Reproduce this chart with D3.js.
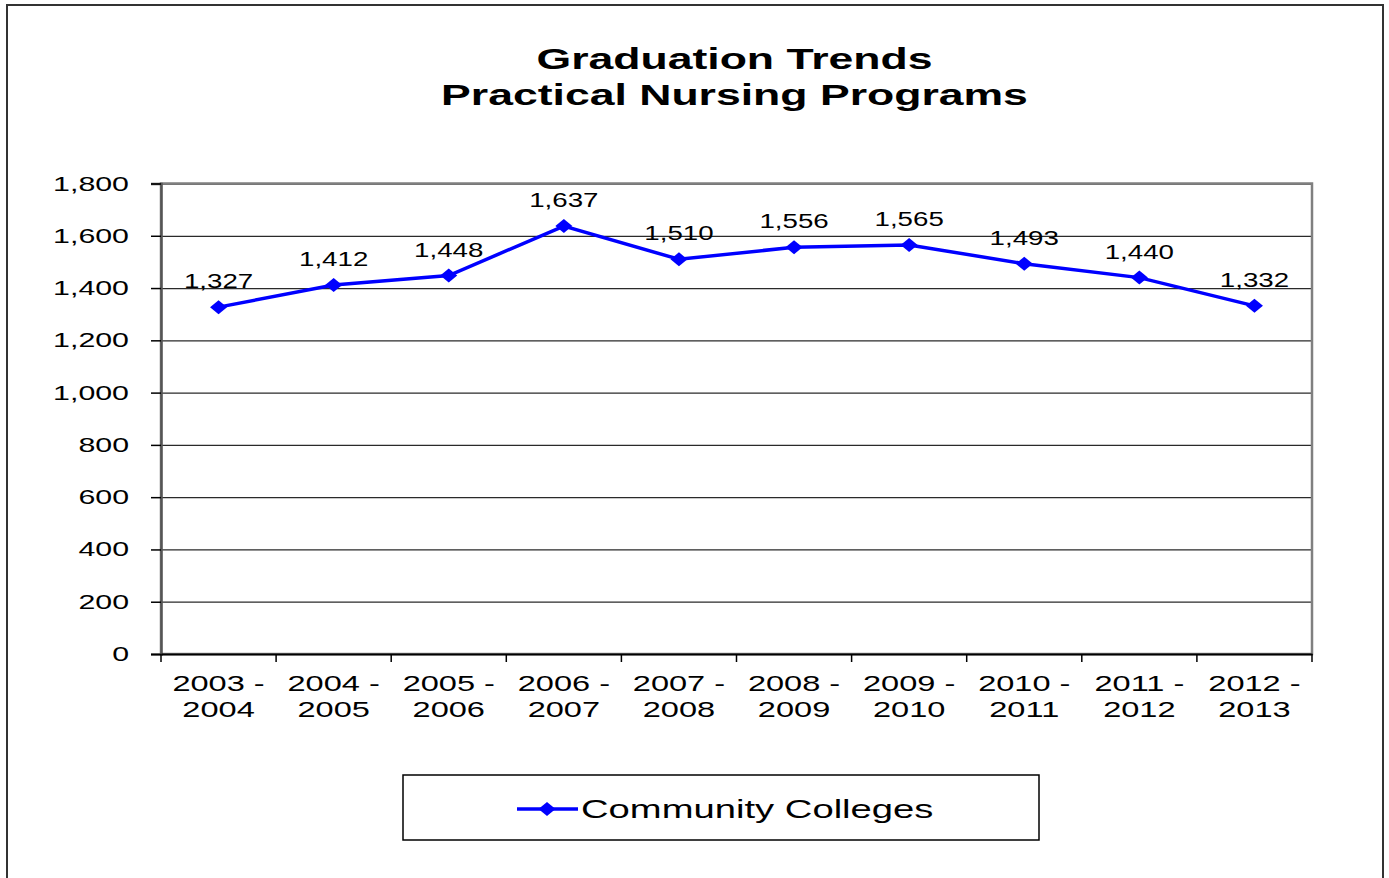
<!DOCTYPE html>
<html>
<head>
<meta charset="utf-8">
<script src="https://cdn.jsdelivr.net/npm/d3@7"></script>
<style>
  body { margin: 0; background: #fff; }
  text { font-family: "Liberation Sans", Arial, sans-serif; fill: #000; }
</style>
</head>
<body>
<div id="chart"></div>
<script>
var titleLines = ["Graduation Trends", "Practical Nursing Programs"];
var years = ["2003 - 2004", "2004 - 2005", "2005 - 2006", "2006 - 2007", "2007 - 2008",
             "2008 - 2009", "2009 - 2010", "2010 - 2011", "2011 - 2012", "2012 - 2013"];
var graduates = [1327, 1412, 1448, 1637, 1510, 1556, 1565, 1493, 1440, 1332];
var yTicks = [0, 200, 400, 600, 800, 1000, 1200, 1400, 1600, 1800];
var seriesName = "Community Colleges";

var width = 1389,
    height = 878,
    SX = 1.5; // the source picture is stretched sideways

var plot = {left: 161, right: 1312, top: 183.5, bottom: 654};

var x = d3.scaleBand()
    .domain(years)
    .range([plot.left, plot.right])
    .padding(0);

var y = d3.scaleLinear()
    .domain([0, 1800])
    .range([plot.bottom, plot.top]);

var fmt = d3.format(",");

var svg = d3.select("#chart").append("svg")
    .attr("width", width)
    .attr("height", height)

// wide text, anchored at x,y
function wideText(g, tx, ty, str, size, anchor, weight, sx) {
    return g.append("text")
        .attr("transform", "translate(" + tx + "," + ty + ") scale(" + (sx || SX) + ",1)")
        .attr("text-anchor", anchor)
        .style("font-size", size + "px")
        .style("font-weight", weight || "normal")
        .text(str);
}

// outer frame
svg.append("rect")
    .attr("x", 7).attr("y", 5)
    .attr("width", 1376).attr("height", 900)
    .attr("fill", "none")
    .attr("stroke", "#333")
    .attr("stroke-width", 2)

// title
titleLines.forEach(function (t, i) {
    wideText(svg, 734.5, 69 + i * 36, t, 29.7, "middle", "bold");
});

// gridlines
svg.append("g")
    .attr("class", "grid")
    .attr("transform", "translate(" + plot.left + ",0)")
    .call(d3.axisLeft(y).tickValues(yTicks.slice(1)).tickSize(-(plot.right - plot.left)).tickFormat(""))
    .call(function (g) {
        g.select(".domain").remove();
        g.selectAll("line").attr("stroke", "#2a2a2a").attr("stroke-width", 1.3);
    });

// plot border
svg.append("rect")
    .attr("x", plot.left).attr("y", plot.top)
    .attr("width", plot.right - plot.left)
    .attr("height", plot.bottom - plot.top)
    .attr("fill", "none")
    .attr("stroke", "#808080")
    .attr("stroke-width", 2.5)

// y axis
var yAxis = svg.append("g")
    .attr("transform", "translate(" + plot.left + ",0)")
    .call(d3.axisLeft(y).tickValues(yTicks).tickSize(10).tickFormat(""))
yAxis.select(".domain").attr("stroke", "#555").attr("stroke-width", 2.5);
yAxis.selectAll("line").attr("stroke", "#000").attr("stroke-width", 1.5);

yTicks.forEach(function (v) {
    wideText(svg, 129, y(v) + 7, fmt(v), 20.5, "end", null, 1.48);
});

// x axis, ticks between categories
var xAxis = svg.append("g")
    .attr("transform", "translate(0," + plot.bottom + ")")
    .call(d3.axisBottom(x).tickSize(0).tickFormat(""))
xAxis.select(".domain").attr("stroke", "#000").attr("stroke-width", 2);
xAxis.selectAll(".tick").remove();

var bounds = years.map(function (d) { return x(d); }).concat([plot.right]);
xAxis.selectAll("line.sep")
    .data(bounds)
    .enter().append("line")
    .attr("class", "sep")
    .attr("x1", function (d) { return d; })
    .attr("x2", function (d) { return d; })
    .attr("y1", 0).attr("y2", 8)
    .attr("stroke", "#000")
    .attr("stroke-width", 1.5)

years.forEach(function (d) {
    var cx = x(d) + x.bandwidth() / 2;
    var parts = d.split(" - ");
    wideText(svg, cx, 691, parts[0] + " -", 22, "middle", null, 1.48);
    wideText(svg, cx, 717, parts[1], 22, "middle", null, 1.48);
});

// series line
var pts = years.map(function (d, i) {
    return {year: d, value: graduates[i]};
});

var line = d3.line()
    .x(function (d) { return x(d.year) + x.bandwidth() / 2; })
    .y(function (d) { return y(d.value); });

svg.append("path")
    .datum(pts)
    .attr("d", line)
    .attr("fill", "none")
    .attr("stroke", "#0000ff")
    .attr("stroke-width", 3.5)

function diamond(w, h) {
    return "M0," + (-h) + "L" + w + ",0L0," + h + "L" + (-w) + ",0Z";
}

svg.selectAll(".marker")
    .data(pts)
    .enter().append("path")
    .attr("class", "marker")
    .attr("transform", function (d) {
        return "translate(" + (x(d.year) + x.bandwidth() / 2) + "," + y(d.value) + ")";
    })
    .attr("d", diamond(8.5, 7))
    .attr("fill", "#0000ff")

// data labels
pts.forEach(function (d) {
    wideText(svg, x(d.year) + x.bandwidth() / 2, y(d.value) - 19, fmt(d.value), 19.5, "middle", null, 1.42);
});

// legend
var legend = svg.append("g")
legend.append("rect")
    .attr("x", 403).attr("y", 775)
    .attr("width", 636).attr("height", 65)
    .attr("fill", "none")
    .attr("stroke", "#000")
    .attr("stroke-width", 1.5)
legend.append("line")
    .attr("x1", 517).attr("x2", 578)
    .attr("y1", 809).attr("y2", 809)
    .attr("stroke", "#0000ff")
    .attr("stroke-width", 3.5)
legend.append("path")
    .attr("transform", "translate(547,809)")
    .attr("d", diamond(8.5, 7))
    .attr("fill", "#0000ff")
wideText(legend, 581, 818, seriesName, 26, "start", null, 1.47);
</script>
</body>
</html>
